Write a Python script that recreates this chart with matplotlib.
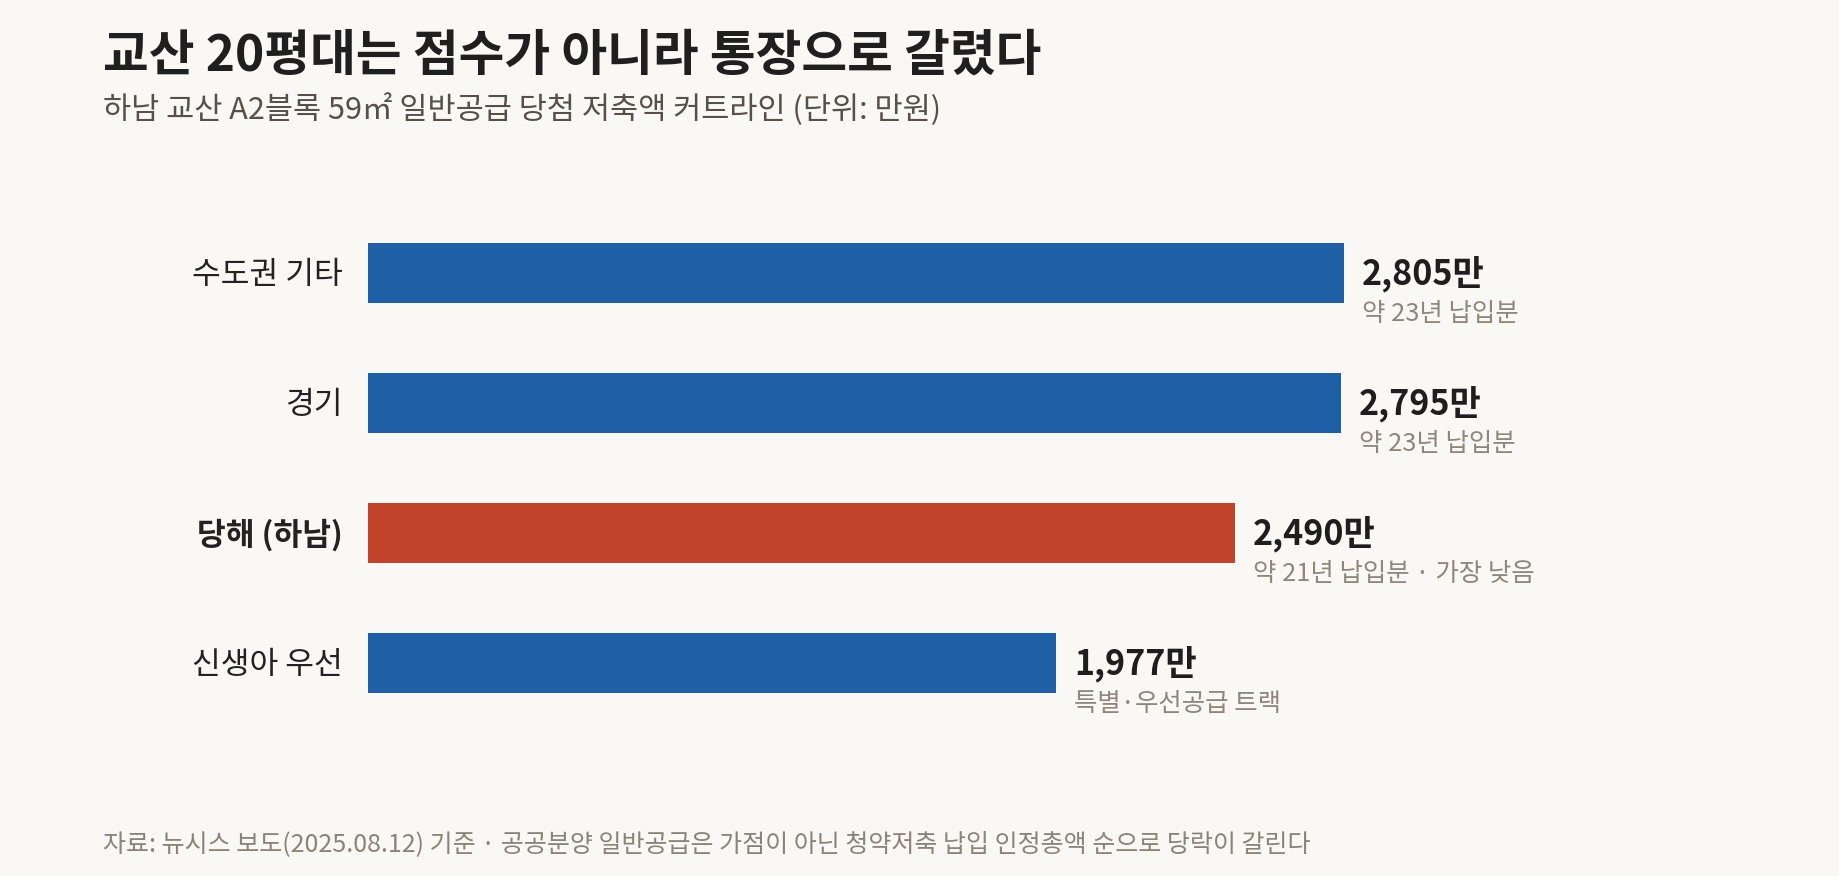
import matplotlib
matplotlib.use("Agg")
import matplotlib.pyplot as plt

plt.rcParams['font.family'] = ['Noto Sans CJK KR', 'DejaVu Sans']

# data
categories = ["수도권 기타", "경기", "당해 (하남)", "신생아 우선"]
values = [2805, 2795, 2490, 1977]
value_labels = ["2,805만", "2,795만", "2,490만", "1,977만"]
notes = ["약 23년 납입분", "약 23년 납입분", "약 21년 납입분 · 가장 낮음", "특별·우선공급 트랙"]
highlight = "당해 (하남)"

title = "교산 20평대는 점수가 아니라 통장으로 갈렸다"
subtitle = "하남 교산 A2블록 59㎡ 일반공급 당첨 저축액 커트라인 (단위: 만원)"
footer = "자료: 뉴시스 보도(2025.08.12) 기준 · 공공분양 일반공급은 가점이 아닌 청약저축 납입 인정총액 순으로 당락이 갈린다"

bg = "#f9f8f4"
blue = "#1f5fa6"
red = "#c1442a"

W, H = 1839, 876
fig = plt.figure(figsize=(W / 100, H / 100), dpi=100, facecolor=bg)

# axes placed in pixel terms
ax_left, ax_right = 368, 1800
ax_top, ax_bottom = 208, 728
ax = fig.add_axes([ax_left / W, 1 - ax_bottom / H, (ax_right - ax_left) / W, (ax_bottom - ax_top) / H])
ax.set_facecolor(bg)
ax.set_xlim(0, (ax_right - ax_left) / 0.348)
ax.set_ylim(len(categories) - 0.5, -0.5)
ax.axis("off")

colors = [red if c == highlight else blue for c in categories]
ax.barh(range(len(categories)), values, height=0.46, color=colors)

for i, cat in enumerate(categories):
    ax.annotate(cat, (0, i), xytext=(-25, -2), textcoords="offset pixels",
                ha="right", va="center", fontsize=22.5, color="#222222",
                fontweight="bold" if cat == highlight else "normal")
    ax.annotate(value_labels[i], (values[i], i), xytext=(18, -2), textcoords="offset pixels",
                ha="left", va="center", fontsize=24.5, fontweight="bold", color="#1e1e1e")
    ax.annotate(notes[i], (values[i], i), xytext=(18, -41), textcoords="offset pixels",
                ha="left", va="center", fontsize=18.3, color="#8f877b")

fig.text(103 / W, 1 - 56 / H, title, fontsize=35.8, fontweight="bold", color="#1f1f1f",
         ha="left", va="center")
fig.text(103 / W, 1 - 110 / H, subtitle, fontsize=22, color="#555048",
         ha="left", va="center")
fig.text(103 / W, 1 - 844 / H, footer, fontsize=18, color="#8a8378",
         ha="left", va="center")

fig.savefig("out.png", dpi=100, facecolor=bg)
